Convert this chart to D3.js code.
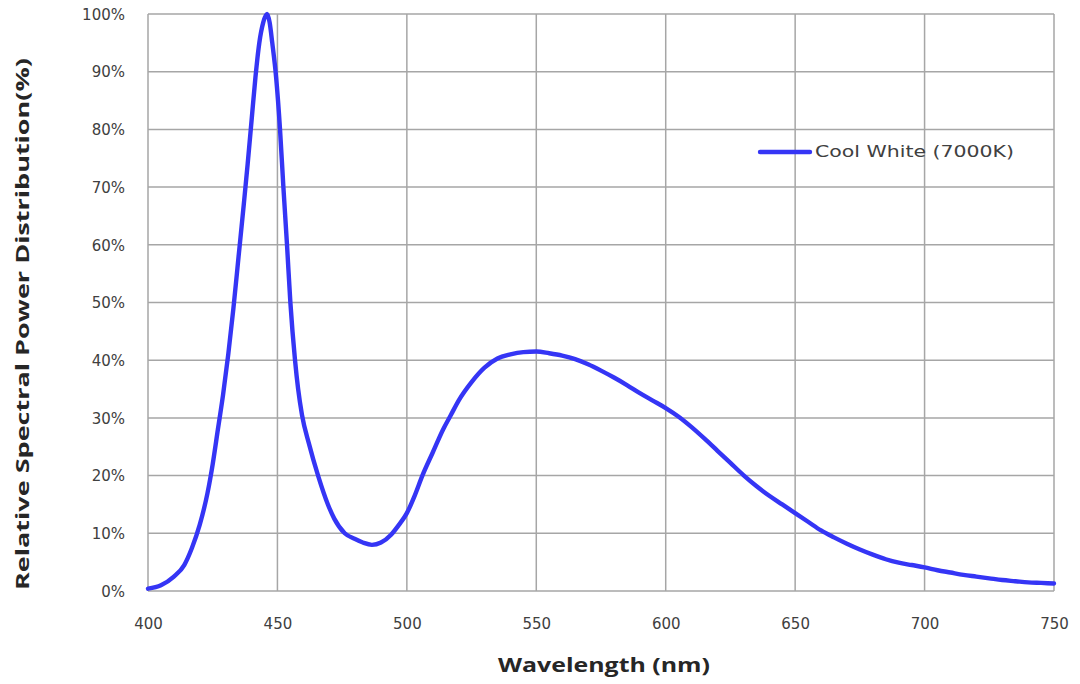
<!DOCTYPE html>
<html>
<head>
<meta charset="utf-8">
<script src="https://cdn.jsdelivr.net/npm/d3@7"></script>
<style>
  html, body { margin: 0; padding: 0; background: #fff; }
  svg { display: block; }
</style>
</head>
<body>
<svg id="chart" width="1080" height="684"></svg>
<script>
const seriesName = "Cool White (7000K)";
const wavelength = [400,405,410,414,417,420,423,425,427,429,431,433,435,437,438.5,440,441.5,443,444.5,446,447,448,449.5,451,452.3,453.7,455,456.8,458,459.5,462.2,465.7,469.5,472,476,480,483,486.5,490,494,497,500,503,506,510,514,517,520,525,530,535,540,545,550,555,560,565,570,575,580,585,590,595,600,605,610,615,620,625,630,635,640,645,650,655,660,665,670,675,680,685,690,695,700,705,710,715,720,725,730,735,740,745,750];
const power = [0.4,1,2.5,4.5,7.5,11.5,17,22,28,34,41,49,58,67,74,81.5,89,95,98.5,100,98.5,95,89,80,70,60,50,40,35,30.5,25.5,20,15,12.5,10,9,8.4,8,8.4,9.8,11.5,13.5,16.5,20,24,28,30.5,33,36.2,38.7,40.3,41,41.4,41.5,41.2,40.8,40.2,39.3,38.2,37,35.7,34.3,33,31.7,30.2,28.4,26.4,24.3,22.2,20.1,18.2,16.5,15,13.5,12,10.5,9.3,8.2,7.2,6.3,5.5,4.9,4.5,4.1,3.6,3.2,2.8,2.5,2.2,1.9,1.7,1.5,1.4,1.3];
const xTicks = [400,450,500,550,600,650,700,750];
const yTicks = [0,10,20,30,40,50,60,70,80,90,100];

const svg = d3.select("#chart");
const L = 148, R = 1054, T = 14, B = 591;
const x = d3.scaleLinear().domain([400, 750]).range([L, R]);
const y = d3.scaleLinear().domain([0, 100]).range([B, T]);
const gridColor = "#a6a6a6";
const textColor = "#404040";
const font = "'DejaVu Sans', Verdana, sans-serif";

// grid
svg.append("g").selectAll("line").data(yTicks).join("line")
  .attr("x1", L).attr("x2", R).attr("y1", d => y(d)).attr("y2", d => y(d))
  .attr("stroke", gridColor).attr("stroke-width", 1.5);
svg.append("g").selectAll("line").data(xTicks).join("line")
  .attr("x1", d => x(d)).attr("x2", d => x(d)).attr("y1", T).attr("y2", B)
  .attr("stroke", gridColor).attr("stroke-width", 1.5);

// axes labels
const xAxis = d3.axisBottom(x).tickValues(xTicks).tickSize(0).tickPadding(0);
const gx = svg.append("g").attr("transform", `translate(0,${B})`).call(xAxis);
gx.select(".domain").remove();
gx.selectAll("text").attr("dy", null).attr("y", 38)
  .attr("font-family", font).attr("font-size", 15).attr("fill", textColor);

const yAxis = d3.axisLeft(y).tickValues(yTicks).tickSize(0).tickPadding(0).tickFormat(d => d + "%");
const gy = svg.append("g").attr("transform", `translate(${L - 23},0)`).call(yAxis);
gy.select(".domain").remove();
gy.selectAll("text").attr("dy", "0.35em")
  .attr("font-family", font).attr("font-size", 15).attr("fill", textColor);

// line
const data = wavelength.map((w, i) => ({ w, p: power[i] }));
const line = d3.line().x(d => x(d.w)).y(d => y(d.p)).curve(d3.curveMonotoneX);
svg.append("path").datum(data)
  .attr("d", line).attr("fill", "none")
  .attr("stroke", "#3535f5").attr("stroke-width", 4.4)
  .attr("stroke-linejoin", "round").attr("stroke-linecap", "round");

// legend
svg.append("line").attr("x1", 760).attr("x2", 810).attr("y1", 152).attr("y2", 152)
  .attr("stroke", "#3535f5").attr("stroke-width", 4.4).attr("stroke-linecap", "round");
svg.append("text").attr("x", 815).attr("y", 157).text(seriesName)
  .attr("font-family", font).attr("font-size", 15).attr("fill", textColor)
  .attr("textLength", 199).attr("lengthAdjust", "spacingAndGlyphs");

// axis titles
svg.append("text").attr("x", 604).attr("y", 672).attr("text-anchor", "middle")
  .text("Wavelength (nm)")
  .attr("font-family", "'Open Sans', sans-serif").attr("font-weight", "bold")
  .attr("font-size", 20).attr("fill", "#262626")
  .attr("textLength", 212).attr("lengthAdjust", "spacingAndGlyphs");
svg.append("text")
  .attr("transform", "translate(29,324) rotate(-90)")
  .attr("text-anchor", "middle")
  .text("Relative Spectral Power Distribution(%)")
  .attr("font-family", "'Open Sans', sans-serif").attr("font-weight", "bold")
  .attr("font-size", 18).attr("fill", "#262626")
  .attr("textLength", 532).attr("lengthAdjust", "spacingAndGlyphs");
</script>
</body>
</html>
